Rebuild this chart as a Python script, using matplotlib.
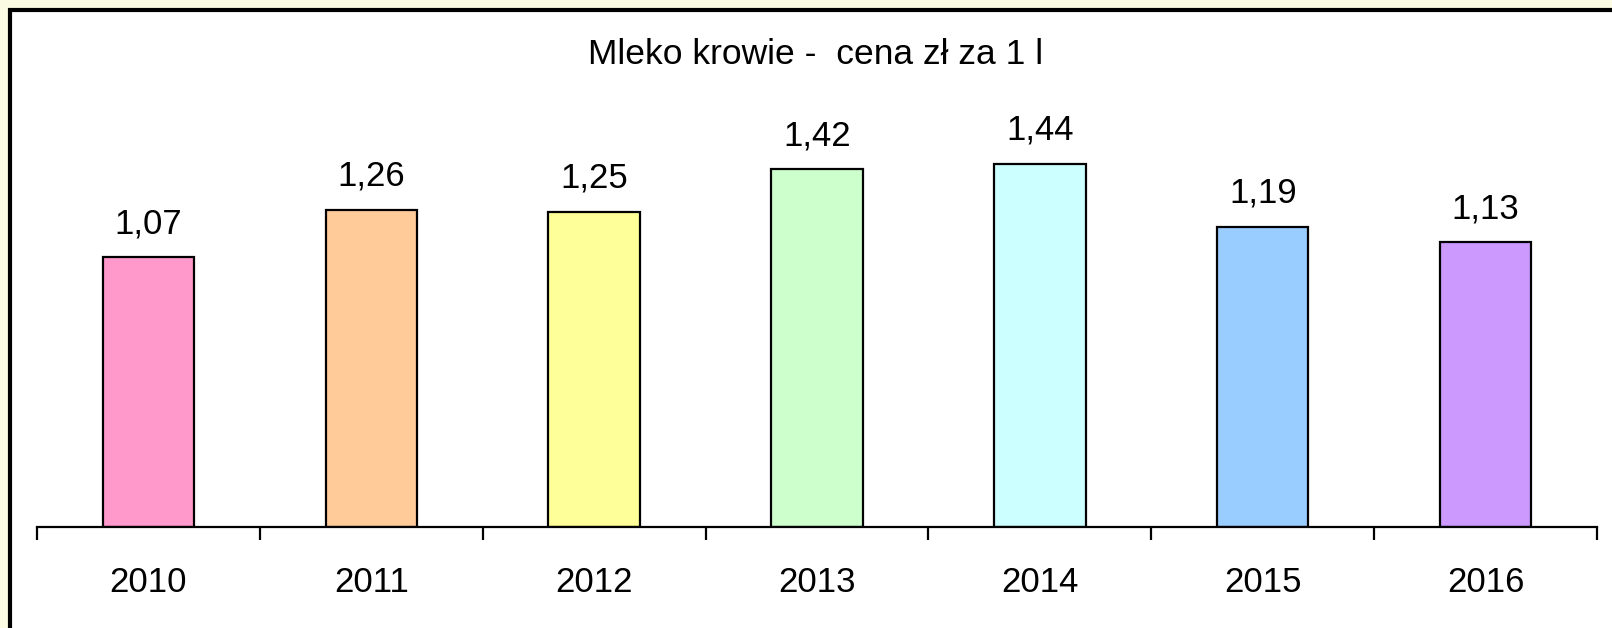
import matplotlib.pyplot as plt
from matplotlib.patches import Rectangle

years = ["2010", "2011", "2012", "2013", "2014", "2015", "2016"]
prices = [1.07, 1.26, 1.25, 1.42, 1.44, 1.19, 1.13]
colors = ["#FF99CC", "#FFCC99", "#FFFF99", "#CCFFCC", "#CCFFFF", "#99CCFF", "#CC99FF"]
title = "Mleko krowie -  cena zł za 1 l"

plt.rcParams["font.family"] = ["Liberation Sans", "DejaVu Sans"]

W, H = 1612, 628
fig = plt.figure(figsize=(W / 100, H / 100), dpi=100)
fig.patch.set_facecolor("#FAFBE2")

# white chart area with a heavy black frame (only left/top visible)
frame = Rectangle((10 / W, -0.1), 1.2, 1 - 10 / H + 0.1,
                  transform=fig.transFigure, facecolor="white",
                  edgecolor="black", linewidth=3, zorder=-5)
fig.patches.append(frame)

ax = fig.add_axes([37 / W, (H - 527) / H, (1597 - 37) / W, (527 - 124) / H])
ax.set_zorder(2)
ax.set_facecolor("none")

x = range(len(years))
bars = ax.bar(x, prices, width=0.41, color=colors, edgecolor="black", linewidth=1.6)
for b, v in zip(bars, prices):
    ax.annotate(f"{v:.2f}".replace(".", ","), (b.get_x() + b.get_width() / 2, v),
                xytext=(0, 17.5), textcoords="offset points",
                ha="center", va="baseline", fontsize=25)

ax.set_xlim(-0.5, len(years) - 0.5)
ax.set_ylim(0, 1.6)
for s in ["top", "right", "left"]:
    ax.spines[s].set_visible(False)
ax.spines["bottom"].set_linewidth(1.6)
ax.set_yticks([])

# tick marks sit between the categories, labels at the centres
ax.set_xticks([i - 0.5 for i in range(len(years) + 1)], minor=False)
ax.set_xticklabels([])
ax.tick_params(axis="x", which="major", direction="out", length=9, width=1.6)
ax.set_xticks(list(x), minor=True)
ax.set_xticklabels(years, minor=True, fontsize=25)
ax.tick_params(axis="x", which="minor", length=0, pad=28)

fig.text(816 / W, 1 - 54 / H, title, ha="center", va="center", fontsize=25.5)

fig.savefig("out.png", dpi=100)
